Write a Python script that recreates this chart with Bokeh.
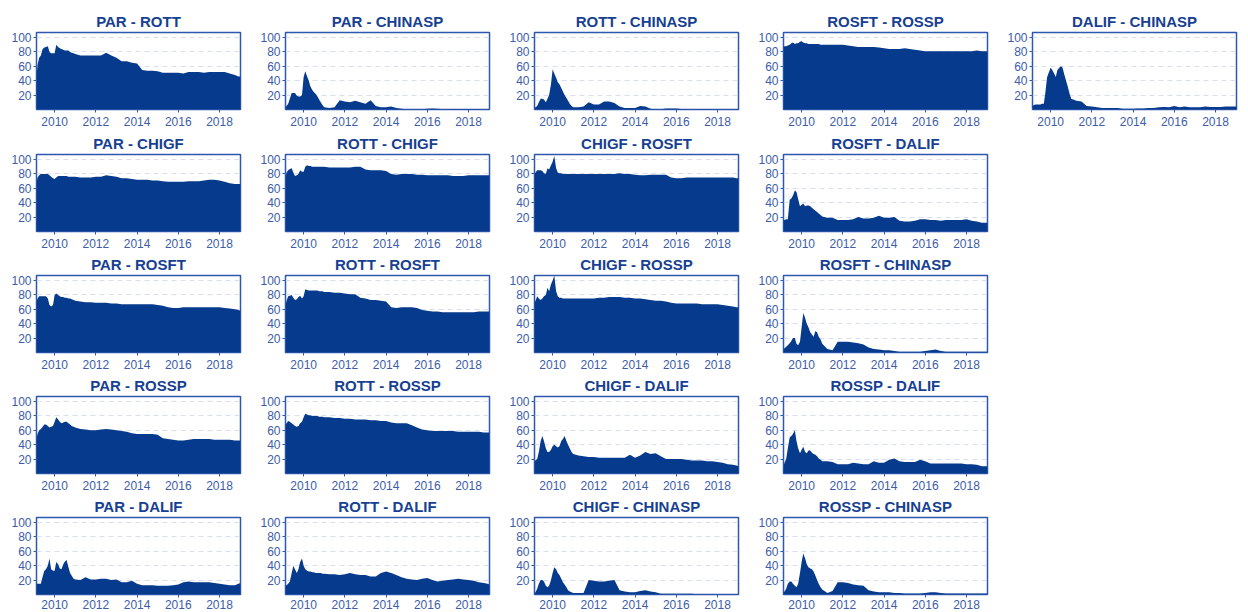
from bokeh.plotting import figure
from bokeh.layouts import column, row
from bokeh.models import FixedTicker, Range1d
from bokeh.embed import file_html
from bokeh.resources import INLINE

# Time axis (decimal years)
DATES = [2009.12, 2009.17, 2009.25, 2009.33, 2009.42, 2009.50, 2009.58, 2009.67,
         2009.75, 2009.83, 2009.92, 2010.00, 2010.08, 2010.17, 2010.25, 2010.33,
         2010.42, 2010.50, 2010.58, 2010.67, 2010.75, 2010.83, 2010.92, 2011.00,
         2011.25, 2011.50, 2011.75, 2012.00, 2012.25, 2012.50, 2012.75, 2013.00,
         2013.25, 2013.50, 2013.75, 2014.00, 2014.25, 2014.50, 2014.75, 2015.00,
         2015.25, 2015.50, 2015.75, 2016.00, 2016.25, 2016.50, 2016.75, 2017.00,
         2017.25, 2017.50, 2017.75, 2018.00, 2018.25, 2018.50, 2018.75, 2018.92,
         2019.02]

X_TICKS = [2010, 2012, 2014, 2016, 2018]
Y_TICKS = [20, 40, 60, 80, 100]

PAR_ROTT = [45, 62, 72, 75, 84, 86, 87, 88, 80, 78, 78, 78, 90, 87, 85, 84, 83, 82, 82, 82, 80, 79, 78, 77,
            75, 75, 75, 75, 75, 79, 75, 72, 67, 67, 65, 64, 55, 54, 54, 53, 51, 51, 51, 51, 50, 52, 52, 52,
            51, 52, 52, 52, 52, 50, 48, 46, 46]
PAR_CHINASP = [3, 5, 8, 15, 23, 23, 23, 19, 18, 18, 20, 45, 53, 46, 40, 32, 27, 24, 22, 18, 14, 10, 6, 3,
               2, 3, 13, 11, 10, 12, 10, 8, 13, 5, 3, 3, 4, 2, 1, 0.5, 0.5, 0.5, 0.5, 1, 1.5, 1, 0.5, 0.5,
               0.8, 0.8, 0.8, 0.8, 0.8, 0.8, 0.5, 0.5, 0.5]
ROTT_CHINASP = [2, 3, 5, 10, 15, 15, 14, 10, 15, 20, 35, 56, 50, 44, 38, 35, 30, 25, 20, 16, 12, 8, 5, 3,
                3, 4, 10, 7, 7, 11, 11, 9, 4, 2, 2, 2, 5, 4, 1, 0.5, 0.5, 1.5, 1.5, 1.5, 0.8, 0.5, 0.5, 0.5,
                0.8, 0.8, 0.5, 0.5, 0.5, 0.5, 0.5, 0.8, 0.8]
ROSFT_ROSSP = [87, 88, 88, 89, 90, 92, 93, 91, 92, 92, 94, 95, 93, 92, 92, 91, 91, 91, 91, 91, 91, 91, 90, 90,
               90, 90, 90, 90, 89, 88, 87, 87, 87, 87, 86, 85, 84, 84, 84, 85, 84, 83, 82, 81, 81, 81, 81, 81,
               81, 81, 81, 81, 81, 82, 81, 81, 81]
DALIF_CHINASP = [5, 6, 7, 7, 7, 7, 8, 8, 25, 45, 52, 58, 55, 50, 45, 55, 58, 60, 58, 48, 40, 32, 22, 15,
                 12, 11, 5, 4, 3, 2, 2, 2, 2, 1, 1, 1, 1.5, 1.5, 2, 2, 3, 3.5, 3, 5, 3, 4, 3, 3,
                 3, 4, 3.5, 3.5, 3.5, 4, 4, 4, 4]
PAR_CHIGF = [67, 75, 78, 80, 80, 80, 80, 80, 78, 76, 74, 73, 75, 77, 77, 77, 77, 77, 77, 76, 76, 76, 76, 76,
             75, 75, 75, 76, 76, 78, 77, 76, 74, 74, 73, 72, 72, 72, 71, 71, 70, 69, 69, 69, 69, 70, 70, 70,
             71, 72, 72, 71, 69, 67, 66, 66, 66]
ROTT_CHIGF = [75, 82, 85, 87, 88, 82, 77, 78, 80, 85, 83, 83, 90, 92, 91, 91, 90, 90, 90, 90, 90, 90, 90, 90,
              89, 89, 89, 89, 89, 90, 90, 86, 85, 85, 85, 84, 80, 79, 80, 80, 80, 79, 79, 78, 78, 78, 78, 78,
              77, 77, 77, 78, 78, 78, 78, 78, 78]
CHIGF_ROSFT = [80, 82, 85, 85, 85, 84, 81, 80, 88, 86, 92, 97, 105, 88, 82, 81, 81, 80, 80, 80, 80, 80, 80, 80,
               80, 80, 80, 80, 80, 80, 80, 80, 81, 80, 80, 79, 78, 78, 79, 79, 79, 79, 75, 74, 74, 75, 75, 75,
               75, 75, 75, 75, 75, 75, 75, 74, 74]
ROSFT_DALIF = [16, 16, 17, 17, 44, 46, 50, 57, 55, 45, 35, 37, 39, 35, 36, 36, 35, 33, 31, 29, 27, 25, 23, 21,
               19, 19, 16, 16, 16, 17, 20, 18, 18, 19, 22, 19, 19, 20, 15, 14, 14, 15, 17, 17, 16, 16, 15, 16,
               16, 16, 16, 17, 15, 14, 12, 12, 12]
PAR_ROSFT = [70, 75, 78, 78, 78, 78, 78, 75, 66, 64, 66, 80, 82, 80, 78, 77, 77, 76, 76, 75, 75, 74, 73, 72,
             71, 70, 70, 69, 69, 69, 68, 68, 67, 67, 67, 67, 67, 67, 67, 66, 65, 63, 62, 62, 63, 63, 63, 63,
             63, 63, 63, 63, 62, 61, 60, 59, 58]
ROTT_ROSFT = [65, 72, 78, 79, 80, 76, 73, 74, 77, 79, 75, 78, 88, 87, 86, 86, 86, 86, 86, 86, 85, 85, 85, 84,
              84, 83, 83, 82, 81, 81, 76, 75, 73, 73, 72, 71, 63, 62, 63, 63, 63, 62, 59, 58, 57, 57, 56, 56,
              56, 56, 56, 56, 56, 57, 57, 57, 57]
CHIGF_ROSSP = [70, 72, 78, 75, 73, 75, 78, 80, 90, 85, 95, 100, 107, 85, 78, 76, 76, 75, 75, 75, 75, 75, 75, 75,
               75, 75, 75, 75, 76, 76, 77, 77, 77, 76, 76, 75, 75, 74, 73, 72, 72, 71, 69, 68, 68, 68, 68, 68,
               67, 67, 67, 67, 66, 65, 64, 63, 63]
ROSFT_CHINASP = [5, 6, 8, 10, 13, 16, 20, 20, 12, 10, 15, 35, 55, 48, 40, 35, 28, 25, 22, 30, 28, 22, 18, 12,
                 5, 3, 15, 15, 15, 14, 13, 11, 7, 5, 4, 3, 3, 2, 1, 1, 1, 1, 1, 2, 3, 4, 2, 1,
                 1, 1, 1, 1, 1, 1, 1, 1, 1]
PAR_ROSSP = [48, 55, 60, 62, 65, 68, 68, 66, 64, 65, 66, 72, 78, 75, 72, 70, 71, 72, 72, 70, 68, 66, 65, 64,
             62, 61, 60, 60, 61, 62, 61, 60, 59, 58, 56, 55, 55, 55, 55, 54, 49, 48, 47, 46, 46, 47, 48, 48,
             48, 48, 47, 47, 47, 47, 46, 46, 46]
ROTT_ROSSP = [68, 70, 73, 72, 70, 68, 66, 65, 66, 70, 72, 78, 83, 82, 81, 81, 80, 80, 80, 80, 79, 79, 79, 78,
              78, 77, 77, 76, 76, 75, 75, 75, 74, 74, 73, 73, 71, 70, 70, 70, 67, 64, 61, 60, 59, 59, 59, 59,
              59, 58, 58, 58, 58, 58, 57, 57, 57]
CHIGF_DALIF = [18, 18, 20, 30, 45, 52, 45, 35, 30, 30, 33, 38, 40, 38, 36, 38, 45, 48, 52, 45, 40, 35, 30, 27,
               25, 24, 23, 23, 22, 22, 22, 22, 22, 22, 26, 22, 25, 30, 27, 28, 24, 20, 20, 20, 20, 19, 18, 18,
               18, 17, 17, 16, 15, 13, 12, 11, 10]
ROSSP_DALIF = [10, 15, 20, 35, 50, 52, 55, 60, 45, 35, 28, 33, 37, 30, 28, 32, 32, 29, 27, 26, 24, 21, 19, 17,
               17, 16, 13, 13, 13, 15, 14, 13, 13, 17, 15, 15, 19, 21, 17, 16, 16, 16, 19, 17, 14, 14, 14, 14,
               14, 14, 14, 13, 13, 12, 10, 10, 10]
PAR_DALIF = [15, 15, 15, 15, 25, 33, 35, 40, 50, 35, 33, 33, 45, 42, 36, 35, 42, 46, 48, 38, 30, 26, 22, 21,
             20, 24, 21, 21, 22, 22, 20, 21, 17, 17, 19, 15, 13, 13, 13, 12, 12, 12, 13, 14, 17, 18, 17, 17,
             17, 17, 16, 15, 14, 13, 13, 15, 16]
ROTT_DALIF = [12, 13, 15, 18, 30, 40, 35, 30, 35, 45, 50, 40, 35, 33, 32, 32, 31, 31, 30, 30, 30, 30, 29, 29,
              28, 28, 27, 28, 30, 28, 27, 27, 25, 25, 30, 32, 30, 27, 24, 22, 21, 20, 22, 23, 20, 18, 19, 20,
              21, 22, 21, 20, 19, 17, 16, 15, 14]
CHIGF_CHINASP = [2, 3, 8, 15, 20, 20, 18, 12, 10, 12, 20, 30, 38, 35, 30, 27, 22, 17, 14, 10, 6, 4, 3, 2,
                 2, 2, 20, 19, 18, 18, 19, 20, 6, 4, 3, 3, 5, 6, 4, 3, 1, 1, 1, 1, 1, 1, 1, 0.5,
                 0.5, 0.5, 0.5, 0.5, 0.5, 0.5, 0.5, 0.5, 0.5]
ROSSP_CHINASP = [3, 4, 8, 15, 18, 18, 15, 12, 10, 15, 30, 45, 57, 50, 42, 38, 36, 35, 32, 26, 20, 15, 10, 7,
                 2, 5, 17, 17, 16, 14, 13, 12, 6, 4, 3, 3, 3, 2, 2, 1.5, 1.5, 1.5, 1.5, 2, 3, 3, 2, 1.5,
                 1.5, 1.5, 1.5, 1.5, 1.5, 1.5, 1.5, 1.5, 1.5]

GRID_ROWS = [
    [("PAR - ROTT", PAR_ROTT), ("PAR - CHINASP", PAR_CHINASP), ("ROTT - CHINASP", ROTT_CHINASP),
     ("ROSFT - ROSSP", ROSFT_ROSSP), ("DALIF - CHINASP", DALIF_CHINASP)],
    [("PAR - CHIGF", PAR_CHIGF), ("ROTT - CHIGF", ROTT_CHIGF), ("CHIGF - ROSFT", CHIGF_ROSFT),
     ("ROSFT - DALIF", ROSFT_DALIF)],
    [("PAR - ROSFT", PAR_ROSFT), ("ROTT - ROSFT", ROTT_ROSFT), ("CHIGF - ROSSP", CHIGF_ROSSP),
     ("ROSFT - CHINASP", ROSFT_CHINASP)],
    [("PAR - ROSSP", PAR_ROSSP), ("ROTT - ROSSP", ROTT_ROSSP), ("CHIGF - DALIF", CHIGF_DALIF),
     ("ROSSP - DALIF", ROSSP_DALIF)],
    [("PAR - DALIF", PAR_DALIF), ("ROTT - DALIF", ROTT_DALIF), ("CHIGF - CHINASP", CHIGF_CHINASP),
     ("ROSSP - CHINASP", ROSSP_CHINASP)],
]

FILL = "#063a8c"
TITLE_COLOR = "#173f93"
TICK_COLOR = "#3d5da8"
FRAME_COLOR = "#2e58ae"
GRID_COLOR = "#d9ddf1"
FONT = "Liberation Sans"

CELL_W = 249
FRAME_H = 77
ROW_TOP = [32, 24, 24, 24, 24]
ROW_BOTTOM = [21, 20, 20, 20, 19]
LABEL_STANDOFF = [4, 4, 4, 4, 2]


def make_panel(title, values, top, bottom, standoff):
    p = figure(width=CELL_W, height=top + FRAME_H + bottom,
               x_range=Range1d(2009.12, 2019.02), y_range=Range1d(0, 107),
               output_backend="svg", toolbar_location=None,
               min_border_left=36, min_border_right=9,
               min_border_top=top, min_border_bottom=bottom,
               background_fill_color="white", border_fill_color="white")
    p.varea(x=DATES, y1=0, y2=values, fill_color=FILL, fill_alpha=1.0)

    p.title.text = title
    p.title.align = "center"
    p.title.text_font = FONT
    p.title.text_font_size = "15px"
    p.title.text_font_style = "bold"
    p.title.text_color = TITLE_COLOR
    p.title.standoff = 5

    p.outline_line_color = FRAME_COLOR
    p.outline_line_width = 1.5
    p.outline_line_alpha = 1.0

    p.xgrid.visible = False
    p.ygrid.ticker = FixedTicker(ticks=Y_TICKS)
    p.ygrid.grid_line_color = GRID_COLOR
    p.ygrid.grid_line_dash = "5 4"
    p.ygrid.grid_line_width = 1

    p.xaxis.ticker = FixedTicker(ticks=X_TICKS)
    p.yaxis.ticker = FixedTicker(ticks=Y_TICKS)
    for ax in (p.xaxis, p.yaxis):
        ax.axis_line_color = None
        ax.major_tick_line_color = FRAME_COLOR
        ax.major_tick_out = 3
        ax.major_tick_in = 0
        ax.minor_tick_line_color = None
        ax.major_label_text_font = FONT
        ax.major_label_text_font_size = "12px"
        ax.major_label_text_color = TICK_COLOR
    p.xaxis.major_label_standoff = standoff
    p.yaxis.major_label_standoff = 2
    return p


rows = []
for r, panels in enumerate(GRID_ROWS):
    figs = [make_panel(t, v, ROW_TOP[r], ROW_BOTTOM[r], LABEL_STANDOFF[r]) for t, v in panels]
    rows.append(row(*figs, spacing=0))

layout = column(*rows, spacing=0)
open("out.html", "w").write(file_html(layout, INLINE))
